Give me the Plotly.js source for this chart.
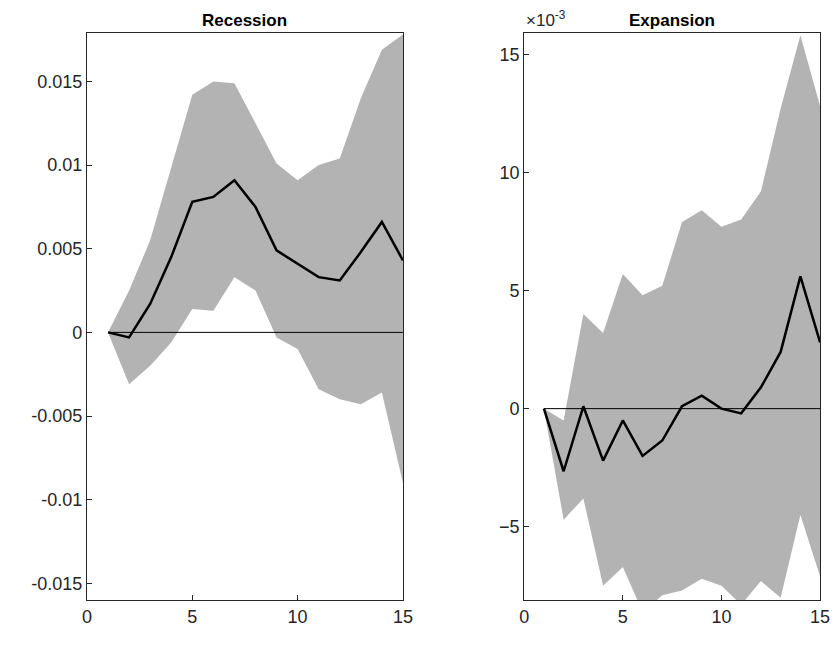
<!DOCTYPE html>
<html>
<head>
<meta charset="utf-8">
<script src="https://cdn.plot.ly/plotly-3.0.1.min.js"></script>
<style>html,body{margin:0;padding:0;background:#fff}</style>
</head>
<body>
<div id="chart" style="width:836px;height:659px"></div>
<script>
// horizon
var horizon = [1,2,3,4,5,6,7,8,9,10,11,12,13,14,15];

// recession response
var recMean  = [0,-0.0003,0.0017,0.0045,0.0078,0.0081,0.0091,0.0075,0.0049,0.0041,0.0033,0.0031,0.0048,0.0066,0.0043];
var recUpper = [0,0.0025,0.0055,0.0098,0.0142,0.0150,0.0149,0.0125,0.0101,0.0091,0.0100,0.0104,0.0140,0.0169,0.0178];
var recLower = [0,-0.0031,-0.0020,-0.0006,0.0014,0.0013,0.0033,0.0025,-0.0003,-0.0010,-0.0034,-0.0040,-0.0043,-0.0036,-0.0090];

// expansion response (x 1e-3)
var expMean  = [0,-2.65,0.1,-2.2,-0.5,-2.0,-1.35,0.1,0.55,0,-0.2,0.9,2.4,5.6,2.8];
var expUpper = [0,-0.5,4.0,3.2,5.7,4.8,5.2,7.9,8.4,7.7,8.0,9.2,12.7,15.8,12.8];
var expLower = [0,-4.7,-3.8,-7.5,-6.7,-8.6,-7.9,-7.7,-7.2,-7.5,-8.3,-7.3,-8.0,-4.5,-7.1];

var recTicks = [-0.015,-0.01,-0.005,0,0.005,0.01,0.015];
var recTickText = ['-0.015','-0.01','-0.005','0','0.005','0.01','0.015'];
var expTicks = [-5,0,5,10,15];
var xTicks = [0,5,10,15];

function band(lo, hi, xa, ya) {
  return {
    x: horizon.concat(horizon.slice().reverse()),
    y: hi.concat(lo.slice().reverse()),
    xaxis: xa, yaxis: ya,
    type: 'scatter', mode: 'lines', fill: 'toself',
    fillcolor: '#b3b3b3', line: {width: 0}, hoverinfo: 'skip'
  };
}
function zero(xa, ya) {
  return {x: [1,15], y: [0,0], xaxis: xa, yaxis: ya, type: 'scatter', mode: 'lines',
          line: {color: '#000', width: 1}};
}
function mean(vals, xa, ya) {
  return {x: horizon, y: vals, xaxis: xa, yaxis: ya, type: 'scatter', mode: 'lines',
          line: {color: '#000', width: 2.5}};
}

var data = [
  band(recLower, recUpper, 'x', 'y'), zero('x', 'y'), mean(recMean, 'x', 'y'),
  band(expLower, expUpper, 'x2', 'y2'), zero('x2', 'y2'), mean(expMean, 'x2', 'y2')
];

var axBase = {showgrid: false, zeroline: false, showline: true, mirror: true,
  linecolor: '#262626', linewidth: 1, ticks: 'inside', ticklen: 5, tickcolor: '#262626',
  tickfont: {size: 18, color: '#262626'}};

var layout = {
  width: 836, height: 659,
  margin: {l: 0, r: 0, t: 0, b: 0},
  showlegend: false,
  paper_bgcolor: '#fff', plot_bgcolor: '#fff',
  font: {family: 'Liberation Sans, Arial, sans-serif'},
  xaxis: Object.assign({}, axBase, {domain: [0.104, 0.482], range: [0, 15], tickvals: xTicks, anchor: 'y'}),
  yaxis: Object.assign({}, axBase, {domain: [0.0895, 0.95], range: [-0.0160, 0.0179],
    tickvals: recTicks, ticktext: recTickText, anchor: 'x'}),
  xaxis2: Object.assign({}, axBase, {domain: [0.627, 0.981], range: [0, 15], tickvals: xTicks, anchor: 'y2'}),
  yaxis2: Object.assign({}, axBase, {domain: [0.0895, 0.95], range: [-8.1, 15.9],
    tickvals: expTicks, anchor: 'x2'}),
  annotations: [
    {text: '<b>Recession</b>', x: 0.293, y: 0.952, xref: 'paper', yref: 'paper',
     xanchor: 'center', yanchor: 'bottom', showarrow: false, font: {size: 17, color: '#000'}},
    {text: '<b>Expansion</b>', x: 0.804, y: 0.952, xref: 'paper', yref: 'paper',
     xanchor: 'center', yanchor: 'bottom', showarrow: false, font: {size: 17, color: '#000'}},
    {text: '×10<sup>-3</sup>', x: 0.627, y: 0.952, xref: 'paper', yref: 'paper',
     xanchor: 'left', yanchor: 'bottom', showarrow: false, font: {size: 17, color: '#262626'}}
  ]
};

Plotly.newPlot('chart', data, layout, {displayModeBar: false});
</script>
</body>
</html>
